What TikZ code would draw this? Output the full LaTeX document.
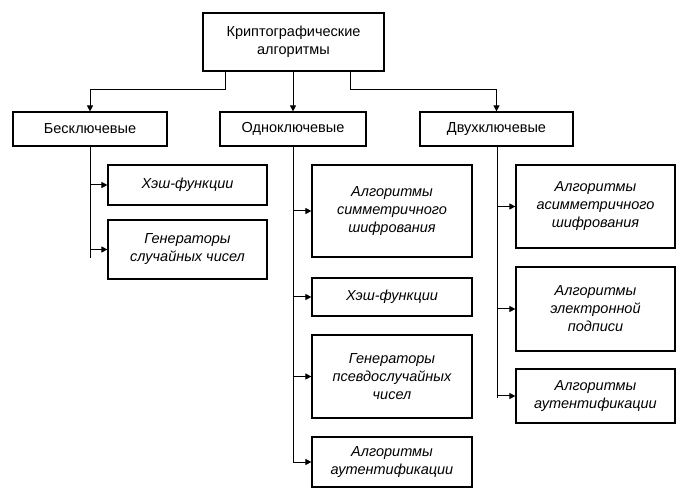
\documentclass[tikz,border=0pt]{standalone}
\usepackage{fontspec}
\setmainfont{Liberation Sans}
\usetikzlibrary{arrows.meta}
\begin{document}
\begin{tikzpicture}[x=1pt,y=-1pt,
 box/.style={draw,line width=1.2pt,inner sep=0pt,align=center,font=\fontsize{14.5}{18}\selectfont},
 it/.style={box,font=\fontsize{14.5}{18}\selectfont\itshape},
 ln/.style={line width=1pt},
 ar/.style={ln,-{Triangle[length=6pt,width=6pt]}}]
\useasboundingbox (0,0) rectangle (688,502);
\fill[white] (0,0) rectangle (688,502);
\newcommand{\bx}[6]{\node[#1,minimum width=#4-#3,minimum height=#6-#5] (#2) at ({(#3+#4)/2},{(#5+#6)/2})}
\bx{box}{top}{203}{384}{13}{71} {Криптографические\\алгоритмы};
\bx{box}{b1}{13}{167}{112}{146} {Бесключевые};
\bx{box}{b2}{220}{366}{112}{146} {Одноключевые};
\bx{box}{b3}{420}{573}{112}{146} {Двухключевые};
\bx{it}{l1}{108}{267}{165}{205} {Хэш-функции};
\bx{it}{l2}{108}{267}{220}{279} {Генераторы\\случайных чисел};
\bx{it}{m1}{312}{472}{165}{257} {Алгоритмы\\симметричного\\шифрования};
\bx{it}{m2}{312}{472}{278}{316} {Хэш-функции};
\bx{it}{m3}{312}{472}{335}{418} {Генераторы\\псевдослучайных\\чисел};
\bx{it}{m4}{312}{472}{437}{487} {Алгоритмы\\аутентификации};
\bx{it}{r1}{516}{675}{165}{248} {Алгоритмы\\асимметричного\\шифрования};
\bx{it}{r2}{516}{675}{267}{351} {Алгоритмы\\электронной\\подписи};
\bx{it}{r3}{516}{675}{369}{423} {Алгоритмы\\аутентификации};
\coordinate (t1) at (225,71); \coordinate (t3) at (350,71);
\draw[ar] (t1) -- (225,90) -| (b1.north);
\draw[ar] (top.south -| b2.north) -- (b2.north);
\draw[ar] (t3) -- (350,90) -| (b3.north);
\coordinate (s1) at (90,146); \coordinate (s2) at (293,146); \coordinate (s3) at (497,146);
\draw[ln] (s1) -- (90,258);
\draw[ln] (s2) -- (293,463);
\draw[ln] (s3) -- (497,398);
\foreach \n/\x in {l1/90,l2/90,m1/293,m2/293,m3/293,m4/293,r1/497,r2/497,r3/497}
  \draw[ar] (\n.west -| \x,0) -- (\n.west);
\end{tikzpicture}
\end{document}
